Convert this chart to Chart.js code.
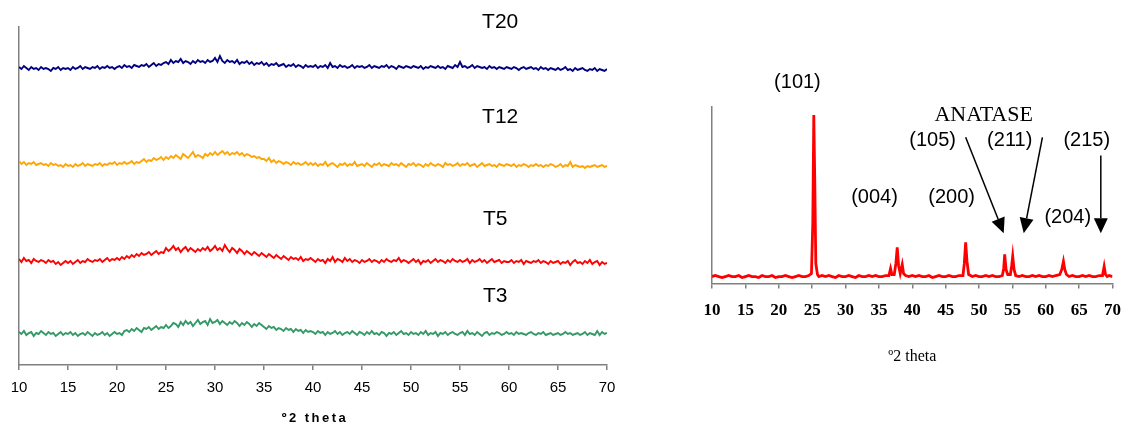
<!DOCTYPE html>
<html><head><meta charset="utf-8">
<script src="https://cdn.jsdelivr.net/npm/chart.js@4.4.0/dist/chart.umd.min.js"></script>
<style>
html,body{margin:0;padding:0;background:#fff;width:1127px;height:430px;overflow:hidden;position:relative}
canvas{position:absolute;top:0}
#c1{left:0}
#c2{left:640px}
</style></head><body>
<canvas id="c1" width="640" height="430"></canvas>
<canvas id="c2" width="493" height="430"></canvas>
<script>
// ---------- DATA ----------
const THETA_START = 10, THETA_STEP = 0.25;   // left panel sampling grid (°2θ)
const T20 = [
298,296,299,297,295,298,296,297,295,298,296,297,296,294,297,296,298,295,297,296,
297,295,298,296,297,299,296,298,297,296,298,297,299,296,298,297,299,297,298,296,
298,299,297,300,298,299,297,300,299,298,300,299,301,298,300,302,299,301,300,302,
303,301,305,302,304,303,306,302,304,303,301,304,302,305,303,304,302,305,303,304,
307,303,309,304,302,305,303,304,302,305,301,303,302,304,301,303,300,302,301,303,
300,302,299,301,300,302,299,300,301,298,300,299,301,298,300,299,297,300,298,299,
298,300,297,299,298,300,297,302,298,299,297,300,298,299,297,298,300,297,299,298,
299,297,298,300,297,299,298,297,299,298,300,297,299,298,296,299,298,297,299,298,
297,299,298,297,299,296,298,297,299,298,297,299,297,298,296,299,298,297,300,298,
303,298,299,297,298,300,297,299,298,297,298,296,299,297,298,296,298,297,296,298,
297,296,298,297,295,297,298,296,297,298,296,297,295,298,296,297,295,297,296,295,
297,295,296,298,295,296,294,297,295,296,297,295,294,296,295,297,294,296,295,294,
296];
const T12 = [
204,201,203,200,202,201,203,200,201,202,200,201,199,202,200,201,199,200,198,201,
199,200,198,201,199,200,202,199,201,200,199,201,200,202,199,201,200,202,201,203,
200,202,201,203,201,202,204,201,203,202,204,206,203,205,204,207,205,206,208,205,
208,206,209,207,210,208,206,211,209,207,210,213,208,210,209,207,211,209,212,210,
213,210,212,214,211,213,210,212,211,213,210,212,209,211,210,208,209,207,208,206,
206,204,207,203,205,202,204,203,201,203,202,200,203,201,202,200,201,203,200,202,
200,202,199,201,200,203,199,201,202,200,198,201,200,202,199,201,200,203,199,200,
201,199,202,200,198,201,200,202,199,201,200,199,202,200,201,199,202,200,198,201,
200,202,199,201,200,198,201,199,202,200,199,201,200,198,202,200,201,199,200,202,
199,201,200,202,199,200,201,198,200,202,199,200,201,199,200,198,201,200,199,201,
200,199,201,198,200,199,201,200,198,200,199,201,199,200,198,200,199,201,200,198,
199,201,198,200,199,203,198,200,199,198,199,197,199,198,199,200,198,199,200,198,
199];
const T5 = [
106,103,107,104,105,102,106,104,103,105,104,102,105,103,104,101,103,100,102,104,
102,104,101,103,105,102,104,103,106,104,103,105,104,106,103,105,107,104,106,105,
107,105,108,106,109,107,110,108,111,109,112,110,111,113,110,112,114,111,113,112,
117,114,116,119,115,117,113,116,118,114,117,115,113,116,114,117,115,118,114,116,
119,115,117,114,120,116,113,117,115,112,116,114,111,114,112,110,113,111,109,112,
110,108,111,109,107,110,108,106,109,107,105,108,106,107,105,108,104,106,105,107,
105,103,106,104,105,102,106,104,108,103,106,105,103,107,104,106,103,105,104,102,
105,103,104,106,103,105,104,102,105,103,106,104,103,105,104,107,103,105,104,102,
104,106,103,105,101,104,103,105,102,104,106,103,105,104,102,105,103,106,104,103,
105,103,104,106,102,105,103,104,106,103,105,102,104,106,103,104,105,102,104,103,
103,105,102,104,103,105,101,104,103,102,104,103,105,102,104,103,101,104,102,103,
104,101,103,102,104,100,103,105,102,103,101,104,102,105,101,103,104,100,103,101,
102];
const T3 = [
33,31,34,30,32,33,29,32,31,34,32,30,33,31,32,29,31,33,30,32,
31,33,30,32,29,31,32,30,33,31,29,32,30,31,33,30,32,29,31,33,
31,32,30,34,35,33,36,34,37,35,33,37,36,38,35,37,39,36,38,37,
40,37,39,42,41,38,43,40,44,41,43,39,42,45,41,43,44,40,46,42,
43,45,41,44,42,40,43,41,44,42,39,42,40,43,41,38,41,39,42,40,
38,36,39,37,38,35,37,36,34,37,35,36,33,36,34,35,32,35,33,34,
33,31,34,32,33,30,33,31,32,34,31,33,30,32,33,31,34,32,30,33,
32,30,33,31,34,31,32,30,33,32,29,32,31,33,30,32,34,31,32,30,
33,31,32,30,33,31,34,30,32,31,33,29,32,31,33,30,32,33,31,30,
32,33,30,34,31,32,30,33,31,29,32,33,30,32,31,33,32,30,31,33,
31,32,30,33,31,32,31,30,32,33,31,30,32,31,33,30,31,32,30,31,
32,30,31,33,31,32,30,31,32,30,31,33,30,32,31,30,34,30,33,31,
32];
const SERIES_NAMES = ['T20', 'T12', 'T5', 'T3'];
const X_TICKS = [10,15,20,25,30,35,40,45,50,55,60,65,70];

const ANATASE_THETA = [
10,10.5,11,11.5,12,12.5,13,13.5,14,14.5,15,15.5,16,16.5,17,17.5,18,18.5,19,19.5,
20,20.5,21,21.5,22,22.5,23,23.5,24,24.5,24.9,25.1,25.25,25.4,25.55,25.8,26,26.5,27,27.5,
28,28.5,29,29.5,30,30.5,31,31.5,32,32.5,33,33.5,34,34.5,35,35.5,36,36.5,36.75,36.95,
37.3,37.55,37.75,37.95,38.2,38.5,38.7,39,39.5,40,40.5,41,41.5,42,42.5,43,43.5,44,44.5,45,
45.5,46,46.5,47,47.6,47.8,48,48.2,48.45,49,49.5,50,50.5,51,51.5,52,52.5,53,53.5,53.7,
53.85,54.05,54.3,54.7,54.9,55.05,55.25,55.5,56,56.5,57,57.5,58,58.5,59,59.5,60,60.5,61,61.5,
62.1,62.4,62.65,62.85,63.1,63.5,64,64.5,65,65.5,66,66.5,67,67.5,68,68.5,68.75,68.95,69.2,69.5,70];
const ANATASE_COUNTS = [
7,8,7,6,7,8,7,7,8,6,7,8,7,7,6,8,7,7,8,6,
7,7,8,7,6,7,8,7,7,8,10,60,167,100,20,9,7,8,7,8,
7,6,8,7,7,8,7,6,8,7,7,8,7,8,7,7,8,8,15,9,
9,20,36,18,10,19,10,8,7,8,7,8,7,7,8,6,7,8,7,7,
8,7,7,8,8,20,41,22,9,7,8,7,7,8,7,8,7,7,8,15,
29,14,9,9,18,27,14,8,7,8,7,7,8,7,8,7,7,8,7,8,
9,14,22,14,9,7,8,7,7,8,7,8,7,7,8,8,17,9,7,8,7];

// ---------- ANNOTATIONS (positions in data units) ----------
const LEFT_LABEL_POS = [[59.1,343],[59.1,248],[58.6,146],[58.6,69]];
const RIGHT_TEXT = [
  ['(101)',22.8,199],['(004)',34.35,85],['(200)',45.9,85],['(105)',43.05,142],
  ['(211)',54.6,142],['(215)',66.15,142],['(204)',63.3,66]
];
const RIGHT_ARROWS = [[48.0,145,53.7,50],[59.5,145,56.7,50],[68.25,127,68.25,50]];

// ---------- HELPERS ----------
const toPts = arr => arr.map((v,i)=>({x: THETA_START + i*THETA_STEP, y: v}));
const COLORS = ['#000080','#FFA500','#FF0000','#339966'];

const leftText = {
  id:'leftText',
  afterDraw(chart){
    const {ctx, scales:{x,y}, chartArea} = chart;
    ctx.save();
    ctx.fillStyle = '#000';
    ctx.textAlign='center'; ctx.textBaseline='middle';
    ctx.font = '21px "Liberation Sans", Arial, sans-serif';
    SERIES_NAMES.forEach((n,i)=>{
      ctx.fillText(n, x.getPixelForValue(LEFT_LABEL_POS[i][0]), y.getPixelForValue(LEFT_LABEL_POS[i][1]));
    });
    ctx.font = 'bold 13px "Liberation Sans", Arial, sans-serif';
    ctx.letterSpacing = '2.5px';
    ctx.fillText('º2 theta', (chartArea.left+chartArea.right)/2 + 2, chartArea.bottom + 53);
    ctx.restore();
  }
};

const rightText = {
  id:'rightText',
  afterDraw(chart){
    const {ctx, scales:{x,y}, chartArea} = chart;
    ctx.save();
    ctx.fillStyle = '#000';
    ctx.textAlign='center'; ctx.textBaseline='middle';
    ctx.font = '20px "Liberation Sans", Arial, sans-serif';
    RIGHT_TEXT.forEach(([t,a,b])=>ctx.fillText(t, x.getPixelForValue(a), y.getPixelForValue(b)));
    ctx.font = '22px "Liberation Serif", "Times New Roman", serif';
    ctx.fillText('ANATASE', x.getPixelForValue(50.7), y.getPixelForValue(167));
    ctx.font = '16px "Liberation Serif", "Times New Roman", serif';
    ctx.fillText('º2 theta', (chartArea.left+chartArea.right)/2, chartArea.bottom + 73);
    ctx.strokeStyle = '#000'; ctx.lineWidth = 1.5;
    RIGHT_ARROWS.forEach(([a1,b1,a2,b2])=>{
      const x1=x.getPixelForValue(a1), y1=y.getPixelForValue(b1);
      const x2=x.getPixelForValue(a2), y2=y.getPixelForValue(b2);
      const ang=Math.atan2(y2-y1,x2-x1), L=15, W=7;
      const bx=x2-L*Math.cos(ang), by=y2-L*Math.sin(ang);
      ctx.beginPath(); ctx.moveTo(x1,y1); ctx.lineTo(bx,by); ctx.stroke();
      ctx.beginPath(); ctx.moveTo(x2,y2);
      ctx.lineTo(bx+W*Math.sin(ang), by-W*Math.cos(ang));
      ctx.lineTo(bx-W*Math.sin(ang), by+W*Math.cos(ang));
      ctx.closePath(); ctx.fill();
    });
    ctx.restore();
  }
};

const xAxis = (font, pad) => ({
  type:'linear', min:10, max:70,
  afterBuildTicks: s => { s.ticks = X_TICKS.map(v=>({value:v})); },
  ticks:{font, color:'#000', padding:pad, maxRotation:0, autoSkip:false},
  grid:{display:true, drawOnChartArea:false, drawTicks:true, tickLength:5, color:'#808080', lineWidth:1.5},
  border:{display:true, color:'#808080', width:1.5}
});
const yAxis = (max) => ({
  min:0, max, display:true,
  ticks:{display:false},
  grid:{display:false, drawTicks:false},
  border:{display:true, color:'#808080', width:1.5}
});

new Chart(document.getElementById('c1'), {
  type:'line',
  data:{datasets:[T20,T12,T5,T3].map((d,i)=>({
    label:SERIES_NAMES[i], data:toPts(d), borderColor:COLORS[i], borderWidth:1.9,
    pointRadius:0, fill:false, tension:0
  }))},
  options:{
    responsive:false, animation:false, devicePixelRatio:1,
    layout:{padding:{left:19, right:33, top:27, bottom:24}},
    plugins:{legend:{display:false}, tooltip:{enabled:false}},
    scales:{x:xAxis({family:'"Liberation Sans", Arial, sans-serif', size:15}, 9), y:yAxis(338)}
  },
  plugins:[leftText]
});

new Chart(document.getElementById('c2'), {
  type:'line',
  data:{datasets:[{
    label:'Anatase', data:ANATASE_THETA.map((t,i)=>({x:t,y:ANATASE_COUNTS[i]})),
    borderColor:'#FF0000', borderWidth:2.8, pointRadius:0, fill:false, tension:0
  }]},
  options:{
    responsive:false, animation:false, devicePixelRatio:1,
    layout:{padding:{left:72, right:4, top:107, bottom:97}},
    plugins:{legend:{display:false}, tooltip:{enabled:false}},
    scales:{x:xAxis({family:'"Liberation Serif", "Times New Roman", serif', size:17, weight:'bold'}, 12), y:yAxis(175)}
  },
  plugins:[rightText]
});
</script>
</body></html>
